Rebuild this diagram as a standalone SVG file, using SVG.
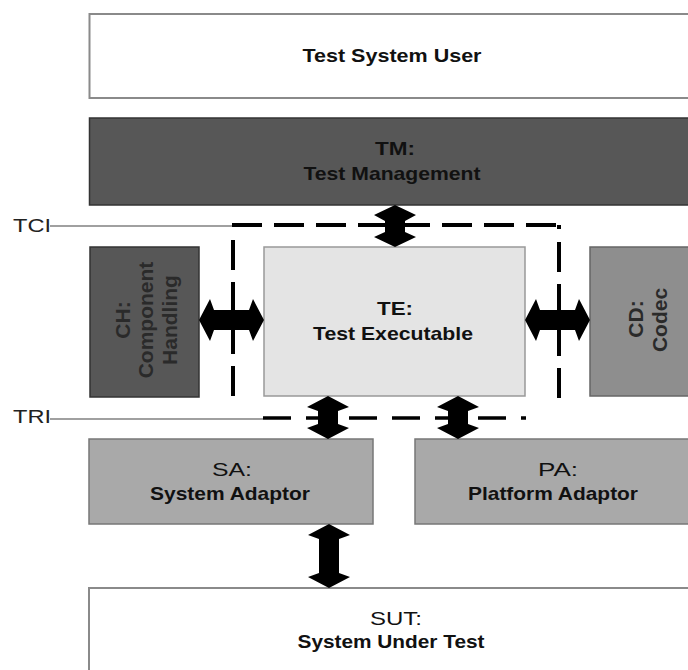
<svg xmlns="http://www.w3.org/2000/svg" width="688" height="670" viewBox="0 0 688 670">
  <style>
    text { font-family: "Liberation Sans", Arial, sans-serif; fill: #111; }
    .lbl { font-size: 19px; font-weight: bold; text-anchor: middle; }
    .reg { font-size: 19px; font-weight: normal; text-anchor: middle; }
    .rot { font-size: 21px; font-weight: bold; text-anchor: middle; fill: #2a2a2a; }
    .side { font-size: 18px; font-weight: normal; fill: #222; }
    .box { stroke-width: 1.5; }
    .white { fill: #ffffff; stroke: #8a8a8a; stroke-width: 2; }
    .dark { fill: #575757; stroke: #333; }
    .mid { fill: #8e8e8e; stroke: #666; }
    .adapt { fill: #a9a9a9; stroke: #777; }
    .light { fill: #e4e4e4; stroke: #999; }
    .dash { fill: none; stroke: #000; stroke-width: 4; stroke-dasharray: 30 12; }
    .dashT { fill: none; stroke: #000; stroke-width: 3.5; stroke-dasharray: 28 15; }
    .tick { fill: none; stroke: #808080; stroke-width: 1.5; }
    .arrow { fill: #000; }
  </style>

  <rect width="688" height="670" fill="#ffffff"/>

  <!-- interface reference lines -->
  <g id="labels">
    <text class="side" x="13" y="232" textLength="38" lengthAdjust="spacingAndGlyphs">TCI</text>
    <line class="tick" x1="50" y1="226" x2="233" y2="226"/>
    <text class="side" x="13" y="423" textLength="38" lengthAdjust="spacingAndGlyphs">TRI</text>
    <line class="tick" x1="50" y1="419" x2="263" y2="419"/>
  </g>

  <g id="tsu">
    <rect class="white" x="89.5" y="14" width="610" height="84"/>
    <text class="lbl" x="392" y="62" textLength="179" lengthAdjust="spacingAndGlyphs">Test System User</text>
  </g>

  <g id="tm">
    <rect class="dark box" x="89.5" y="118" width="610" height="87"/>
    <text class="lbl" x="395" y="155" textLength="40" lengthAdjust="spacingAndGlyphs">TM:</text>
    <text class="lbl" x="392" y="180" textLength="177" lengthAdjust="spacingAndGlyphs">Test Management</text>
  </g>

  <g id="ch">
    <rect class="dark box" x="90" y="247" width="109" height="150"/>
    <text class="rot" transform="translate(130,320) rotate(-90)">CH:</text>
    <text class="rot" transform="translate(153,320) rotate(-90)">Component</text>
    <text class="rot" transform="translate(177,320) rotate(-90)">Handling</text>
  </g>

  <g id="te">
    <rect class="light box" x="264" y="247" width="261" height="149"/>
    <text class="lbl" x="395" y="315" textLength="36" lengthAdjust="spacingAndGlyphs">TE:</text>
    <text class="lbl" x="393" y="340" textLength="160" lengthAdjust="spacingAndGlyphs">Test Executable</text>
  </g>

  <g id="cd">
    <rect class="mid box" x="590" y="247" width="110" height="149"/>
    <text class="rot" transform="translate(643,319) rotate(-90)">CD:</text>
    <text class="rot" transform="translate(667,320) rotate(-90)">Codec</text>
  </g>

  <g id="sa">
    <rect class="adapt box" x="89" y="439" width="284" height="85"/>
    <text class="reg" x="232" y="476" textLength="40" lengthAdjust="spacingAndGlyphs">SA:</text>
    <text class="lbl" x="230" y="500" textLength="160" lengthAdjust="spacingAndGlyphs">System Adaptor</text>
  </g>

  <g id="pa">
    <rect class="adapt box" x="415" y="439" width="285" height="85"/>
    <text class="reg" x="558" y="476" textLength="40" lengthAdjust="spacingAndGlyphs">PA:</text>
    <text class="lbl" x="553" y="500" textLength="170" lengthAdjust="spacingAndGlyphs">Platform Adaptor</text>
  </g>

  <g id="sut">
    <rect class="white" x="89" y="588" width="611" height="90"/>
    <text class="reg" x="396" y="625" textLength="52" lengthAdjust="spacingAndGlyphs">SUT:</text>
    <text class="lbl" x="391" y="648" textLength="187" lengthAdjust="spacingAndGlyphs">System Under Test</text>
  </g>

  <g id="connectors">
    <!-- TCI boundary -->
    <path class="dash" d="M232,225 H559"/>
    <path class="dash" d="M559,225 V229"/>
    <path class="dash" d="M233,240 V398"/>
    <path class="dash" d="M559,242 V398"/>
    <!-- TRI boundary -->
    <path class="dashT" d="M263,418 H526"/>

    <!-- two-way arrows -->
    <path class="arrow" d="M395,205 L416,215 L405,221 L405,232 L416,237 L395,247 L374,237 L385,232 L385,221 L374,215 Z"/>
    <path class="arrow" d="M199,320 L210,299 L214,310 L249,310 L253,299 L264,320 L253,341 L249,330 L214,330 L210,341 Z"/>
    <path class="arrow" d="M525,320 L536,299 L540,310 L575,310 L579,299 L590,320 L579,341 L575,330 L540,330 L536,341 Z"/>
    <path class="arrow" d="M328,396 L349,407 L338,411 L338,424 L349,428 L328,439 L307,428 L318,424 L318,411 L307,407 Z"/>
    <path class="arrow" d="M458,396 L479,407 L468,411 L468,424 L479,428 L458,439 L437,428 L448,424 L448,411 L437,407 Z"/>
    <path class="arrow" d="M329,524 L350,535 L339,539 L339,573 L350,577 L329,588 L308,577 L319,573 L319,539 L308,535 Z"/>
  </g>
</svg>
